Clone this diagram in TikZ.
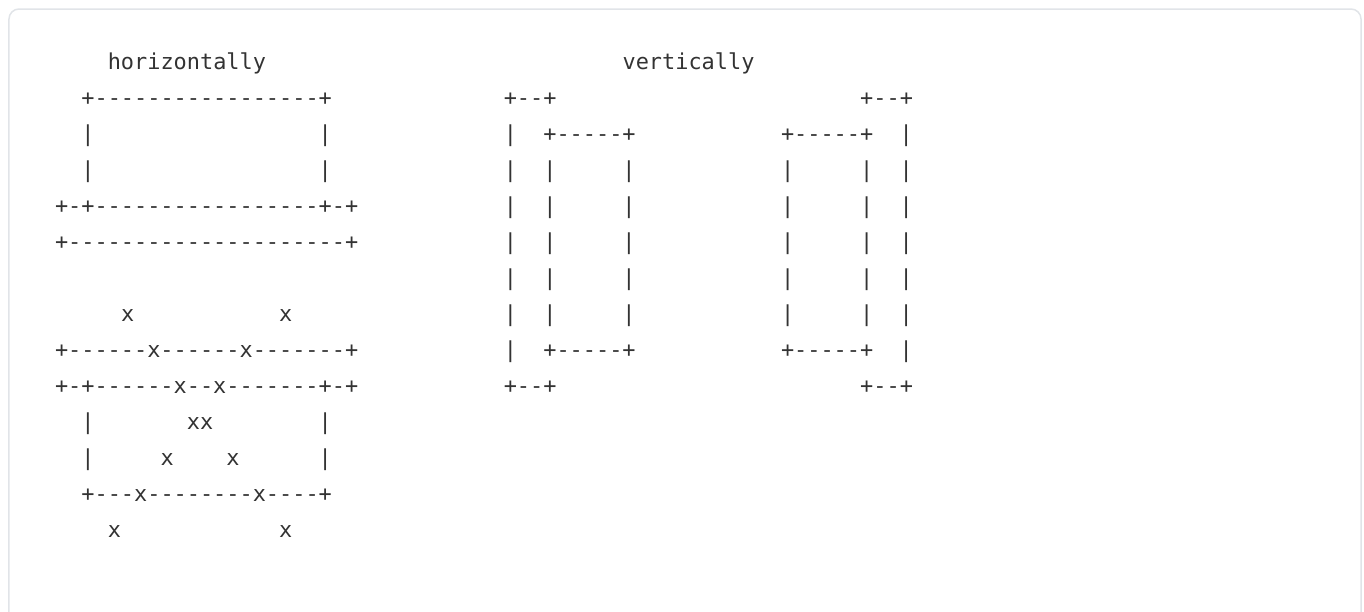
\documentclass[tikz,border=0pt]{standalone}
\usepackage{fontspec}
\setmonofont{DejaVu Sans Mono}[Ligatures=TeXOff]
\usepackage{xcolor}
\definecolor{ink}{HTML}{333333}
\definecolor{boxline}{HTML}{E1E4E8}

\begin{document}
\begin{tikzpicture}[
  x=13.2pt, y=-36.05pt,
  art/.style={font=\ttfamily\fontsize{21.9pt}{36pt}\selectfont, text=ink,
              anchor=base west, inner sep=0pt, outer sep=0pt}
]
\useasboundingbox (-55pt,69pt) rectangle (1309pt,-542pt);
\draw[boxline, line width=1.5pt, rounded corners=10pt] (-46pt,60pt) rectangle (1306pt,-620pt);

% horizontally
\node[art] (htitle) at (4,0) {horizontally};
\node[art] (hr1) at (2,1) {+-----------------+};
\node[art] (hr2) at (2,2) {|~~~~~~~~~~~~~~~~~|};
\node[art] (hr3) at (2,3) {|~~~~~~~~~~~~~~~~~|};
\node[art] (hr4) at (0,4) {+-+-----------------+-+};
\node[art] (hr5) at (0,5) {+---------------------+};

\node[art] (hr7) at (5,7) {x~~~~~~~~~~~x};
\node[art] (hr8) at (0,8) {+------x------x-------+};
\node[art] (hr9) at (0,9) {+-+------x--x-------+-+};
\node[art] (hr10) at (2,10) {|~~~~~~~xx~~~~~~~~|};
\node[art] (hr11) at (2,11) {|~~~~~x~~~~x~~~~~~|};
\node[art] (hr12) at (2,12) {+---x--------x----+};
\node[art] (hr13) at (4,13) {x~~~~~~~~~~~~x};

% vertically
\node[art] (vtitle) at (43,0) {vertically};
\node[art] (vl1) at (34,1) {+--+};
\node[art] (vl2) at (34,2) {|~~+-----+};
\node[art] (vl3) at (34,3) {|~~|~~~~~|};
\node[art] (vl4) at (34,4) {|~~|~~~~~|};
\node[art] (vl5) at (34,5) {|~~|~~~~~|};
\node[art] (vl6) at (34,6) {|~~|~~~~~|};
\node[art] (vl7) at (34,7) {|~~|~~~~~|};
\node[art] (vl8) at (34,8) {|~~+-----+};
\node[art] (vl9) at (34,9) {+--+};

\node[art] (vr1) at (61,1) {+--+};
\node[art] (vr2) at (55,2) {+-----+~~|};
\node[art] (vr3) at (55,3) {|~~~~~|~~|};
\node[art] (vr4) at (55,4) {|~~~~~|~~|};
\node[art] (vr5) at (55,5) {|~~~~~|~~|};
\node[art] (vr6) at (55,6) {|~~~~~|~~|};
\node[art] (vr7) at (55,7) {|~~~~~|~~|};
\node[art] (vr8) at (55,8) {+-----+~~|};
\node[art] (vr9) at (61,9) {+--+};
\end{tikzpicture}
\end{document}
